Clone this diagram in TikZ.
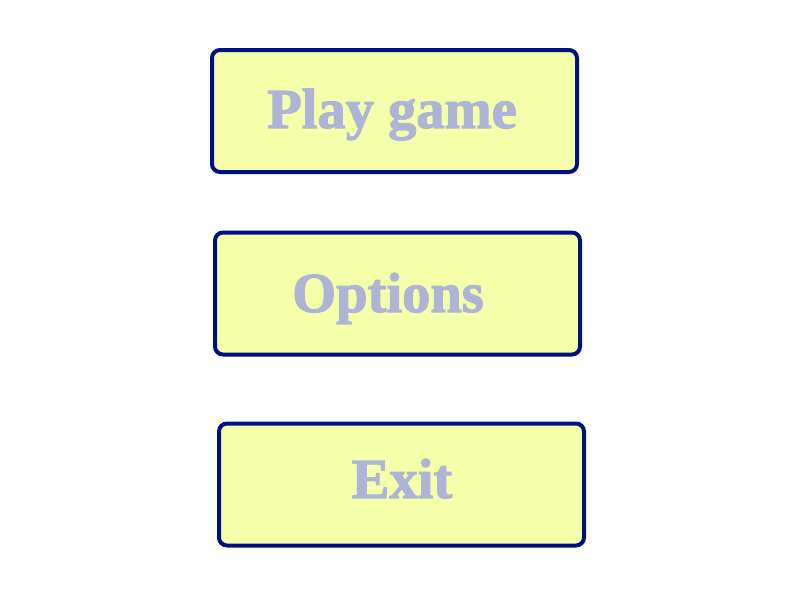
\documentclass[tikz,border=0pt]{standalone}
\usepackage{fontspec}
\setmainfont{Liberation Serif}
\newfontfamily\fatface[FakeBold=2]{Liberation Serif Bold}
\definecolor{boxline}{HTML}{001080}
\definecolor{boxfill}{HTML}{F5FFAA}
\definecolor{btntext}{HTML}{AEB4D6}
\begin{document}
\begin{tikzpicture}[x=1pt,y=-1pt,
  button/.style={draw=boxline,fill=boxfill,line width=4pt,rounded corners=8pt,
    minimum width=365pt,minimum height=122pt,inner sep=0pt},
  btnlabel/.style={text=btntext,font=\fontsize{56.5}{60}\fatface,anchor=base,inner sep=0pt}]
\useasboundingbox (0,0) rectangle (800,600);
\node[button] (b1) at (394.5,111) {};
\node[button] (b2) at (397.5,293.5) {};
\node[button] (b3) at (401.5,484.5) {};
\node[btnlabel] (t1) at (392,128) {Play game};
\node[btnlabel] (t2) at (388,312) {Options};
\node[btnlabel] (t3) at (402,498) {Exit};
\end{tikzpicture}
\end{document}
